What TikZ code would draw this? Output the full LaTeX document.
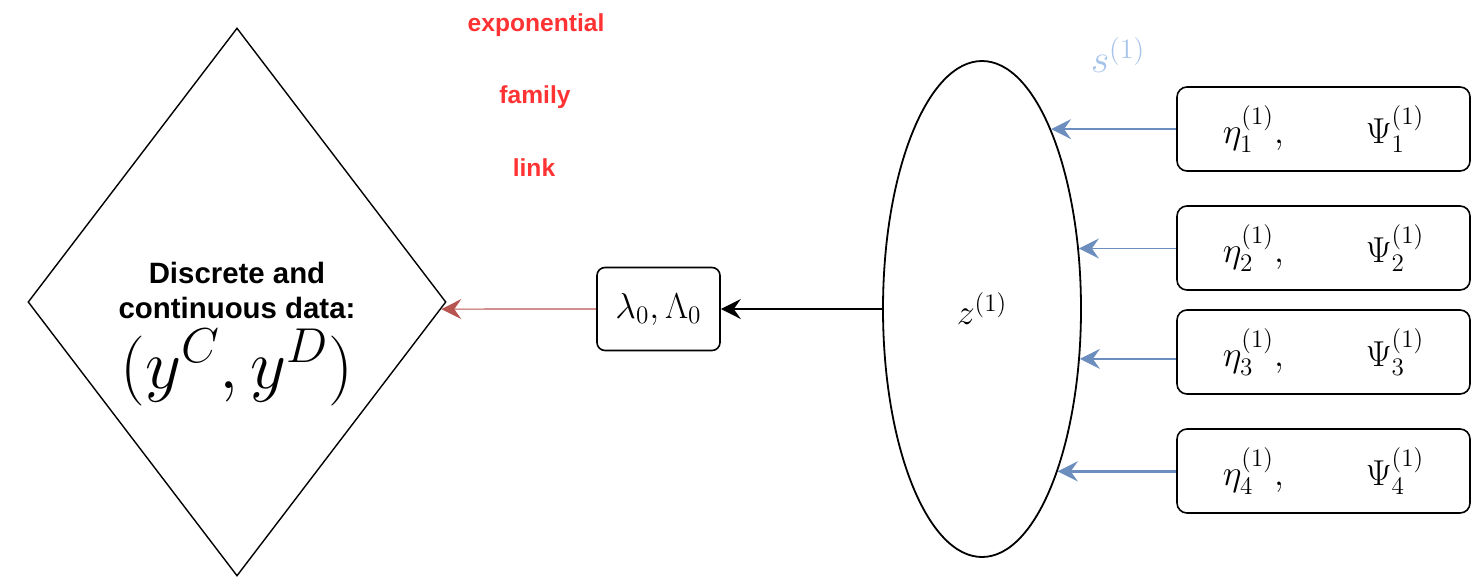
\RequirePackage{fix-cm}
\documentclass[tikz,border=0pt]{standalone}
\usepackage{amsmath}
\usepackage{fontspec}
\newfontfamily\drawsans{Liberation Sans}
\usepackage{xcolor}
\definecolor{linkred}{RGB}{255,51,51}
\definecolor{arrred}{RGB}{184,84,80}
\definecolor{arrblue}{RGB}{108,142,191}
\definecolor{lightblue}{RGB}{169,196,235}
\usetikzlibrary{arrows.meta, shapes.geometric}

\begin{document}
\begin{tikzpicture}[
  x=0.5pt, y=-0.5pt,
  every node/.style={inner sep=0pt},
  mathfont/.style={font=\fontsize{18}{22}\selectfont},
  datanode/.style={draw, diamond, minimum width=209pt, minimum height=274pt, line width=0.7pt},
  datatext/.style={align=center, font=\drawsans\bfseries\fontsize{14.7}{17.5}\selectfont},
  parambox/.style={draw, rounded corners=5pt, minimum width=146.5pt, minimum height=42pt, line width=0.8pt, mathfont},
  latentnode/.style={draw, ellipse, minimum width=99pt, minimum height=248pt, line width=0.9pt, mathfont},
  linktext/.style={text=linkred, font=\drawsans\bfseries\fontsize{12.3}{14}\selectfont},
  arr/.style={-{Stealth[length=10pt, width=10pt, inset=3.5pt]}, line width=0.8pt}
]
  \useasboundingbox (0,0) rectangle (1471,578);

  % data, loadings and latent factor
  \node[datanode] (data) at (237,302) {};
  \node[datatext] (datatxt) at (237,290) {Discrete and\\continuous data:};
  \node[anchor=base, font=\fontsize{35}{40}\selectfont] (datamath) at (237,388) {$(y^C,y^D)$};
  \node[parambox, rounded corners=4pt, minimum width=61.5pt, minimum height=41.5pt] (lam) at (658.5,309) {$\lambda_0,\Lambda_0$};
  \node[latentnode] (z) at (982,309) {$z^{(1)}$};

  % link function label
  \node[linktext] (lnk1) at (536,25) {exponential};
  \node[linktext] (lnk2) at (535,97) {family};
  \node[linktext] (lnk3) at (534,168) {link};

  % parameter boxes
  \node[parambox] (p1) at (1323.5,129) {$\eta_1^{(1)},\hspace{38pt}\Psi_1^{(1)}$};
  \node[parambox] (p2) at (1323.5,248) {$\eta_2^{(1)},\hspace{38pt}\Psi_2^{(1)}$};
  \node[parambox] (p3) at (1323.5,352) {$\eta_3^{(1)},\hspace{38pt}\Psi_3^{(1)}$};
  \node[parambox] (p4) at (1323.5,471) {$\eta_4^{(1)},\hspace{38pt}\Psi_4^{(1)}$};
  \node[text=lightblue, font=\fontsize{20}{24}\selectfont] (s) at (1118,55) {$s^{(1)}$};

  % connectors
  \draw[arr, arrred, line width=0.6pt] (lam.west) -- (data.-2.2);
  \draw[arr] (z.west) -- (lam.east);
  \draw[arr, arrblue] (p1.west |- z.69.3) -- (z.69.3);
  \draw[arr, arrblue] (p2.west |- z.32.4) -- (z.32.4);
  \draw[arr, arrblue] (p3.west |- z.-27.3) -- (z.-27.3);
  \draw[arr, arrblue, line width=1.3pt] (p4.west |- z.-65.4) -- (z.-65.4);
\end{tikzpicture}
\end{document}
